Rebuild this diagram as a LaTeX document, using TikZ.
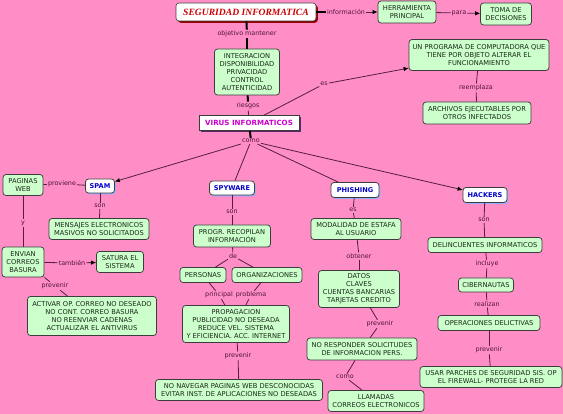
\documentclass[tikz,border=0pt]{standalone}
\usepackage{fontspec}
\setmainfont{DejaVu Sans}
\newfontfamily\titlefont{Liberation Serif}
\usetikzlibrary{arrows.meta,shadows}
\definecolor{bg}{RGB}{255,142,198}
\definecolor{gfill}{RGB}{204,255,204}
\definecolor{gborder}{RGB}{60,60,60}
\definecolor{gtext}{RGB}{25,40,25}
\definecolor{labtext}{RGB}{80,20,60}
\definecolor{linecol}{RGB}{85,30,65}
\definecolor{bluetext}{RGB}{0,0,200}
\definecolor{bshadow}{RGB}{150,175,255}
\definecolor{magtext}{RGB}{204,0,204}
\definecolor{redtext}{RGB}{204,0,0}
\definecolor{redshadow}{RGB}{150,0,0}
\definecolor{vshadow}{RGB}{90,40,110}
\tikzset{
  gbox/.style={rectangle, rounded corners=3pt, draw=gborder, fill=gfill, line width=0.75pt,
    text=gtext, font=\fontsize{6.7}{7.9}\selectfont, align=center, inner sep=1.5pt},
  wbox/.style={rectangle, rounded corners=3pt, draw=gborder, fill=white, line width=0.75pt,
    text=bluetext, font=\fontsize{6.6}{7.8}\selectfont\bfseries, align=center, inner sep=1.5pt,
    drop shadow={shadow xshift=1.3pt, shadow yshift=-1.3pt, fill=bshadow, opacity=1}},
  lab/.style={text=labtext, font=\fontsize{6.4}{7}\selectfont, inner sep=1pt},
  conn/.style={draw=linecol, line width=0.8pt},
  thk/.style={draw=black, line width=2pt},
  arr/.style={conn, -{Latex[length=5pt,width=4.5pt,color=black]}},
}
\begin{document}
\begin{tikzpicture}[x=1pt,y=-1pt]
\fill[bg] (0,0) rectangle (563,414);
\useasboundingbox (0,0) rectangle (563,414);

% ---- nodes ----
\node[rectangle, rounded corners=3pt, draw=gborder, fill=white, line width=0.6pt,
  text=redtext, font=\titlefont\fontsize{9.6}{10}\selectfont\bfseries\itshape,
  minimum width=140, minimum height=18, inner sep=1pt,
  drop shadow={shadow xshift=1.8pt, shadow yshift=-1.8pt, fill=redshadow, opacity=1}]
  (seg) at (246,12) {SEGURIDAD INFORMATICA};
\node[gbox, minimum width=58, minimum height=22] (herr) at (407,12) {HERRAMIENTA\\PRINCIPAL};
\node[gbox, minimum width=51, minimum height=22] (toma) at (506,14) {TOMA DE\\DECISIONES};
\node[gbox, minimum width=65, minimum height=46] (integ) at (247,72) {INTEGRACION\\DISPONIBILIDAD\\PRIVACIDAD\\CONTROL\\AUTENTICIDAD};
\node[rectangle, draw=gborder, fill=white, line width=0.6pt, text=magtext,
  font=\fontsize{7.1}{8}\selectfont\bfseries, minimum width=100, minimum height=15, inner sep=1pt,
  drop shadow={shadow xshift=1.5pt, shadow yshift=-1.5pt, fill=vshadow, opacity=1}]
  (virus) at (249,123) {VIRUS INFORMATICOS};
\node[gbox, minimum width=140, minimum height=31] (prog) at (479,55) {UN PROGRAMA DE COMPUTADORA QUE\\TIENE POR OBJETO ALTERAR EL\\FUNCIONAMIENTO};
\node[gbox, minimum width=108, minimum height=22] (arch) at (477,113) {ARCHIVOS EJECUTABLES POR\\OTROS INFECTADOS};

\node[wbox, minimum width=29, minimum height=14] (spam) at (100,186) {SPAM};
\node[gbox, minimum width=40, minimum height=21] (pag) at (23,185) {PAGINAS\\WEB};
\node[gbox, minimum width=100, minimum height=21] (mens) at (99,229) {MENSAJES ELECTRONICOS\\MASIVOS NO SOLICITADOS};
\node[gbox, minimum width=42, minimum height=30] (envian) at (23,262) {ENVIAN\\CORREOS\\BASURA};
\node[gbox, minimum width=47, minimum height=21] (satura) at (120,262) {SATURA EL\\SISTEMA};
\node[gbox, minimum width=129, minimum height=39] (activar) at (92,316) {ACTIVAR OP. CORREO NO DESEADO\\NO CONT. CORREO BASURA\\NO REENVIAR CADENAS\\ACTUALIZAR EL ANTIVIRUS};

\node[wbox, minimum width=45, minimum height=14] (spy) at (232,188) {SPYWARE};
\node[gbox, minimum width=77, minimum height=22] (recop) at (232,236) {PROGR. RECOPILAN\\INFORMACIÓN};
\node[gbox, minimum width=46, minimum height=15] (pers) at (203,275) {PERSONAS};
\node[gbox, minimum width=70, minimum height=15] (org) at (267,275) {ORGANIZACIONES};
\node[gbox, minimum width=107, minimum height=37] (propag) at (236,324) {PROPAGACION\\PUBLICIDAD NO DESEADA\\REDUCE VEL. SISTEMA\\Y EFICIENCIA. ACC. INTERNET};
\node[gbox, minimum width=167, minimum height=21] (nonav) at (239,390) {NO NAVEGAR PAGINAS WEB DESCONOCIDAS\\EVITAR INST. DE APLICACIONES NO DESEADAS};

\node[wbox, minimum width=48, minimum height=15] (phish) at (355,190) {PHISHING};
\node[gbox, minimum width=90, minimum height=21] (modal) at (356,229) {MODALIDAD DE ESTAFA\\AL USUARIO};
\node[gbox, minimum width=81, minimum height=37] (datos) at (359,289) {DATOS\\CLAVES\\CUENTAS BANCARIAS\\TARJETAS CREDITO};
\node[gbox, minimum width=110, minimum height=22] (noresp) at (362,349) {NO RESPONDER SOLICITUDES\\DE INFORMACION PERS.};
\node[gbox, minimum width=96, minimum height=21] (llam) at (376,401) {LLAMADAS\\CORREOS ELECTRONICOS};

\node[wbox, minimum width=44, minimum height=15] (hack) at (485,195) {HACKERS};
\node[gbox, minimum width=114, minimum height=15] (delinc) at (485,245) {DELINCUENTES INFORMATICOS};
\node[gbox, minimum width=55, minimum height=14] (ciber) at (486,285) {CIBERNAUTAS};
\node[gbox, minimum width=102, minimum height=15] (oper) at (489,323) {OPERACIONES DELICTIVAS};
\node[gbox, minimum width=142, minimum height=21] (usar) at (491,377) {USAR PARCHES DE SEGURIDAD SIS. OP\\EL FIREWALL- PROTEGE LA RED};

% ---- linking phrases ----
\node[lab] (lInfo) at (346,12) {información};
\node[lab] (lPara) at (459,13) {para};
\node[lab] (lObj) at (247,34) {objetivo mantener};
\node[lab] (lRies) at (248,106) {riesgos};
\node[lab] (lEs) at (324,84) {es};
\node[lab] (lReem) at (476,88) {reemplaza};
\node[lab] (lComo) at (251,141) {como};
\node[lab] (lProv) at (62,184) {proviene};
\node[lab] (lSon1) at (100,206) {son};
\node[lab] (lY) at (23,223) {y};
\node[lab] (lTamb) at (72,263) {también};
\node[lab] (lPrev1) at (55,286) {prevenir};
\node[lab] (lSon2) at (232,212) {son};
\node[lab] (lDe) at (233,256) {de};
\node[lab] (lPrinc) at (219,295) {principal};
\node[lab] (lProb) at (251,295) {problema};
\node[lab] (lPrev2) at (238,356) {prevenir};
\node[lab] (lEs2) at (353,210) {es};
\node[lab] (lObt) at (359,256) {obtener};
\node[lab] (lPrev3) at (380,324) {prevenir};
\node[lab] (lComo2) at (345,377) {como};
\node[lab] (lSon3) at (484,220) {son};
\node[lab] (lInc) at (487,264) {incluye};
\node[lab] (lReal) at (487,304) {realizan};
\node[lab] (lPrev4) at (489,350) {prevenir};

% ---- connectors ----
\draw[thk, line width=1.5pt] (seg) -- (lInfo);
\draw[arr] (lInfo) -- (herr);
\draw[conn] (herr) -- (lPara);
\draw[arr] (lPara) -- (toma);
\draw[thk] (seg) -- (lObj);
\draw[thk] (lObj) -- (integ);
\draw[thk] (integ) -- (lRies);
\draw[conn] (lRies) -- (virus);
\draw[conn] (virus) -- (lEs);
\draw[arr] (lEs) -- (prog);
\draw[conn] (prog) -- (lReem);
\draw[conn] (lReem) -- (arch);
\draw[thk] (virus) -- (lComo);
\draw[arr] (lComo) -- (spam);
\draw[conn] (lComo) -- (spy);
\draw[conn] (lComo) -- (phish);
\draw[arr] (lComo) -- (hack);

\draw[conn] (spam) -- (lProv);
\draw[conn] (lProv) -- (pag);
\draw[conn] (spam) -- (lSon1);
\draw[conn] (lSon1) -- (mens);
\draw[conn] (pag) -- (lY);
\draw[conn] (lY) -- (envian);
\draw[conn] (envian) -- (lTamb);
\draw[arr] (lTamb) -- (satura);
\draw[conn] (envian.south east) -- (lPrev1);
\draw[conn] (lPrev1) -- (activar);

\draw[conn] (spy) -- (lSon2);
\draw[conn] (lSon2) -- (recop);
\draw[conn] (recop) -- (lDe);
\draw[conn] (lDe) -- (pers);
\draw[conn] (lDe) -- (org);
\draw[conn] (pers) -- (lPrinc);
\draw[conn] (lPrinc) -- (propag);
\draw[conn] (org) -- (lProb);
\draw[conn] (lProb) -- (propag);
\draw[conn] (propag) -- (lPrev2);
\draw[conn] (lPrev2) -- (nonav);

\draw[conn] (phish) -- (lEs2);
\draw[conn] (lEs2) -- (modal);
\draw[conn] (modal) -- (lObt);
\draw[conn] (lObt) -- (datos);
\draw[conn] (datos) -- (lPrev3);
\draw[conn] (lPrev3) -- (noresp);
\draw[conn] (noresp) -- (lComo2);
\draw[conn] (lComo2) -- (llam);

\draw[conn] (hack) -- (lSon3);
\draw[conn] (lSon3) -- (delinc);
\draw[conn] (delinc) -- (lInc);
\draw[conn] (lInc) -- (ciber);
\draw[conn] (ciber) -- (lReal);
\draw[conn] (lReal) -- (oper);
\draw[conn] (oper) -- (lPrev4);
\draw[conn] (lPrev4) -- (usar);
\end{tikzpicture}
\end{document}
